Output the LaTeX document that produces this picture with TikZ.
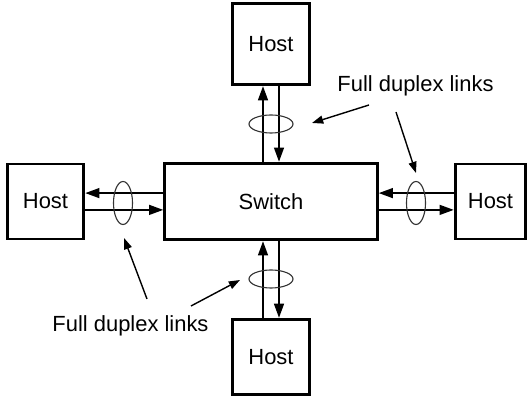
\documentclass[tikz,border=0pt]{standalone}
\usepackage{fontspec}
\setmainfont{Liberation Sans}
\usetikzlibrary{arrows.meta,shapes.geometric}

\begin{document}
\begin{tikzpicture}[
  box/.style={draw=black,line width=1.9pt,inner sep=0pt,font=\fontsize{15.6}{18}\selectfont},
  host/.style={box,minimum width=1.91cm,minimum height=1.88cm},
  link/.style={draw=black,line width=1.8pt,-{Triangle[length=3.6mm,width=2.4mm]}},
  ring/.style={draw=black!80,line width=0.8pt,ellipse,inner sep=0pt},
  pointer/.style={draw=black,line width=1pt,-{Triangle[length=2.8mm,width=2mm]}},
  label/.style={font=\fontsize{15.6}{18}\selectfont,anchor=base},
]
\useasboundingbox (0,0) rectangle (13.225,10);

% switch and hosts
\node[box,minimum width=5.31cm,minimum height=1.91cm] (sw) at (6.775,4.9625) {Switch};
\node[host,minimum height=2.03cm] (north) at (6.775,8.9) {Host};
\node[host] (south) at (6.775,1.075) {Host};
\node[host] (west) at (1.1375,4.9625) {Host};
\node[host,minimum width=1.76cm] (east) at (12.2625,4.9625) {Host};

% duplex links
\draw[link] ([xshift=-2mm]sw.north) -- ([xshift=-2mm]north.south);
\draw[link] ([xshift=2mm]north.south) -- ([xshift=2mm]sw.north);
\draw[link] ([xshift=-2mm]south.north) -- ([xshift=-2mm]sw.south);
\draw[link] ([xshift=2mm]sw.south) -- ([xshift=2mm]south.north);
\draw[link] ([yshift=2.1mm]sw.west) -- ([yshift=2.1mm]west.east);
\draw[link] ([yshift=-2.1mm]west.east) -- ([yshift=-2.1mm]sw.west);
\draw[link] ([yshift=2.1mm]east.west) -- ([yshift=2.1mm]sw.east);
\draw[link] ([yshift=-2.1mm]sw.east) -- ([yshift=-2.1mm]east.west);

% rings round each pair
\node[ring,minimum width=1.1cm,minimum height=0.45cm] (nring) at (6.775,6.9) {};
\node[ring,minimum width=1.1cm,minimum height=0.45cm] (sring) at (6.775,3.025) {};
\node[ring,minimum width=0.475cm,minimum height=1.075cm] (wring) at (3.075,4.925) {};
\node[ring,minimum width=0.475cm,minimum height=1.075cm] (ering) at (10.4,4.925) {};

% labels and pointers
\node[label] (toplbl) at (10.3875,7.7) {Full duplex links};
\node[label] (botlbl) at (3.2625,1.7) {Full duplex links};
\coordinate (p1a) at (9.225,7.375);
\coordinate (p1b) at (7.8,6.925);
\coordinate (p2a) at (9.9,7.2);
\coordinate (p2b) at (10.4,5.675);
\coordinate (p3a) at (3.675,2.525);
\coordinate (p3b) at (3.1,4.05);
\coordinate (p4a) at (4.775,2.35);
\coordinate (p4b) at (6.0,3.0);
\draw[pointer] (p1a) -- (p1b);
\draw[pointer] (p2a) -- (p2b);
\draw[pointer] (p3a) -- (p3b);
\draw[pointer] (p4a) -- (p4b);

\end{tikzpicture}
\end{document}
